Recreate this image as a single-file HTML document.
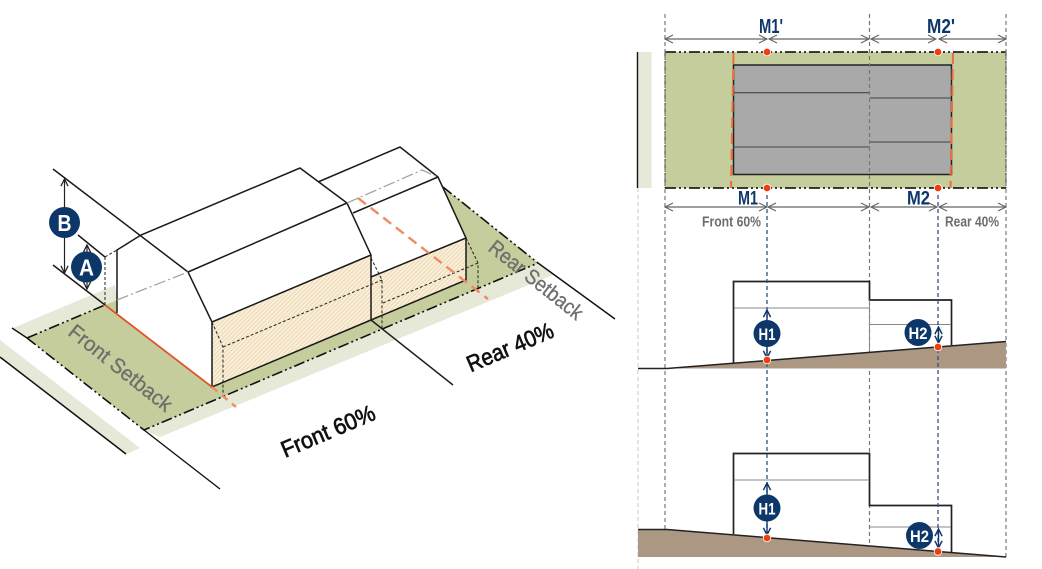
<!DOCTYPE html>
<html><head><meta charset="utf-8"><style>
html,body{margin:0;padding:0;background:#fff;width:1042px;height:569px;overflow:hidden}
svg{display:block}
text{font-family:"Liberation Sans",sans-serif}
</style></head><body>
<svg width="1042" height="569" viewBox="0 0 1042 569" xmlns="http://www.w3.org/2000/svg">
<defs>
<pattern id="h" width="3" height="3" patternUnits="userSpaceOnUse" patternTransform="rotate(45)">
<rect width="3" height="3" fill="#f9efdc"/><rect width="1" height="3" fill="#eed9ae"/>
</pattern>
<marker id="a" viewBox="0 0 10 10" refX="9" refY="5" markerWidth="9" markerHeight="9" markerUnits="userSpaceOnUse" orient="auto-start-reverse"><path d="M1 1L9 5L1 9" fill="none" stroke="#222" stroke-width="1.4"/></marker>
<marker id="b" viewBox="0 0 10 10" refX="9" refY="5" markerWidth="9" markerHeight="9" markerUnits="userSpaceOnUse" orient="auto-start-reverse"><path d="M1 1L9 5L1 9" fill="none" stroke="#0d3768" stroke-width="1.6"/></marker>
<marker id="g" viewBox="0 0 10 10" refX="9" refY="5" markerWidth="10" markerHeight="10" markerUnits="userSpaceOnUse" orient="auto-start-reverse"><path d="M1 1L9 5L1 9" fill="none" stroke="#666" stroke-width="1.2"/></marker>
</defs>

<!-- ISO: ground -->
<polygon points="0,340 140,448 126,454 0,356" fill="#e6e8d8"/>
<polygon points="13,328 115,285 117,300 27,338" fill="#e6e8d8"/>
<polygon points="144,430 538,263 553,275 160,437" fill="#e6e8d8"/>
<polygon points="27,338 117,300 443,187 538,263 144,430" fill="#c6cd9c"/>
<line x1="0" y1="357" x2="126" y2="454" stroke="#111" stroke-width="1.5"/>
<line x1="12" y1="328" x2="27" y2="338" stroke="#111" stroke-width="1.4"/>
<g fill="none" stroke="#111" stroke-width="1.6" stroke-dasharray="11 3 2 3 2 3">
<path d="M27 338L144 430L538 263"/><path d="M27 338L105 305"/><path d="M443 187L538 263"/>
</g>
<path d="M144 430L220 489" stroke="#111" stroke-width="1.4"/>
<path d="M538 263L615 319" stroke="#111" stroke-width="1.4"/>

<!-- ISO: building -->
<polygon points="117,250 141,235 300,168 318,182 400,147 438,177 466,238 466,280 371,320 212,387 117,313" fill="#fff"/>
<polygon points="212,322 371,255 371,320 212,387" fill="url(#h)"/>
<polygon points="371,277 466,238 466,280 371,320" fill="url(#h)"/>
<g fill="none" stroke="#1a1a1a" stroke-width="1.5">
<path d="M53 169L188 272L212 322L212 387L371 320L466 280L466 238L438 177L400 147L318 182"/>
<path d="M117 313V250L141 235L300 168L347 203L371 255V320L453 385"/>
<path d="M188 272L347 203"/>
<path d="M353 213L438 177"/>
<path d="M212 322L371 255"/>
<path d="M371 277L466 238"/>
<path d="M78 235L105 257"/>
<path d="M53 265L105 305"/>
</g>
<g fill="none" stroke="#a5a5a5" stroke-width="1.3" stroke-dasharray="12 3 2 3">
<path d="M117 300L188 272"/><path d="M347 203L422 170L438 177"/>
</g>
<g fill="none" stroke="#222" stroke-width="1" stroke-dasharray="3 2">
<path d="M105 257V305"/><path d="M105 257L117 250"/>
<path d="M212 322L223 347V396"/>
<path d="M223 347L382 280"/>
<path d="M371 258L382 280V328"/>
<path d="M383 303L478 263"/>
<path d="M466 238L478 263V290"/>
</g>
<path d="M105 305L212 387" stroke="#e0542a" stroke-width="1.8" fill="none"/>
<path d="M212 387L236 407" stroke="#f08a60" stroke-width="2.4" stroke-dasharray="7 6" fill="none"/>
<path d="M358 198L488 299" stroke="#f08a60" stroke-width="2.4" stroke-dasharray="10 6" fill="none"/>

<!-- ISO: dimensions -->
<line x1="64.5" y1="179" x2="64.5" y2="273" stroke="#222" stroke-width="1.2" marker-start="url(#a)" marker-end="url(#a)"/>
<line x1="87" y1="245" x2="87" y2="289" stroke="#222" stroke-width="1.2" marker-start="url(#a)" marker-end="url(#a)"/>
<circle cx="64.5" cy="222.5" r="15.5" fill="#0d3768"/>
<circle cx="86.5" cy="267" r="15.5" fill="#0d3768"/>
<text x="64.5" y="231" text-anchor="middle" font-size="23" font-weight="700" fill="#fff" textLength="14" lengthAdjust="spacingAndGlyphs">B</text>
<text x="86.5" y="275.5" text-anchor="middle" font-size="23" font-weight="700" fill="#fff" textLength="15" lengthAdjust="spacingAndGlyphs">A</text>

<!-- ISO: labels -->
<text transform="translate(120.5 368) rotate(38.5)" text-anchor="middle" font-size="21" fill="#6d6f6c" textLength="126" lengthAdjust="spacingAndGlyphs" dy="7" stroke="#6d6f6c" stroke-width="0.3">Front Setback</text>
<text transform="translate(536 280) rotate(38.5)" text-anchor="middle" font-size="21" fill="#6d6f6c" textLength="114" lengthAdjust="spacingAndGlyphs" dy="7" stroke="#6d6f6c" stroke-width="0.3">Rear Setback</text>
<text transform="translate(510 347) rotate(-23)" text-anchor="middle" font-size="23" fill="#111" textLength="92" lengthAdjust="spacingAndGlyphs" dy="8" stroke="#111" stroke-width="0.7">Rear 40%</text>
<text transform="translate(328 431) rotate(-23)" text-anchor="middle" font-size="23" fill="#111" textLength="100" lengthAdjust="spacingAndGlyphs" dy="8" stroke="#111" stroke-width="0.7">Front 60%</text>

<!-- RIGHT: plan -->
<rect x="638.5" y="52" width="13" height="136" fill="#e6e8d8"/>
<line x1="637.5" y1="52" x2="637.5" y2="188" stroke="#111" stroke-width="1.4"/>
<rect x="665" y="52" width="341" height="136" fill="#c6cd9c"/>
<rect x="733.5" y="65" width="218" height="109.5" fill="#a9a9a9" stroke="#222" stroke-width="1.5"/>
<g stroke="#444" stroke-width="1.1">
<line x1="733" y1="92.7" x2="870" y2="92.7"/>
<line x1="733" y1="147" x2="870" y2="147"/>
<line x1="870" y1="98" x2="951" y2="98"/>
<line x1="870" y1="142" x2="951" y2="142"/>
</g>
<g fill="none" stroke="#222" stroke-width="1.8" stroke-dasharray="11 3 2 3 2 3">
<path d="M665 52H1006"/><path d="M665 188H1006"/>
</g>
<g fill="none" stroke="#333" stroke-width="1" stroke-dasharray="6 3 2 3">
<path d="M665 52V188"/><path d="M1006 52V188"/>
</g>
<g fill="none" stroke="#ee6d3c" stroke-width="2" stroke-dasharray="11 5">
<path d="M733.5 53L731 188"/><path d="M953 53L950.5 188"/>
</g>

<!-- RIGHT: verticals -->
<g fill="none" stroke="#777" stroke-width="1.2" stroke-dasharray="4 3">
<path d="M665 14V558"/><path d="M869.5 14V558"/><path d="M1006 14V558"/>
</g>
<path d="M638 188V569" fill="none" stroke="#c9c9c9" stroke-width="1" stroke-dasharray="4 3"/>

<!-- RIGHT: dims -->
<g stroke="#666" stroke-width="1.2" fill="none">
<line x1="665" y1="39" x2="767" y2="39" marker-start="url(#g)" marker-end="url(#g)"/>
<line x1="769" y1="39" x2="869" y2="39" marker-start="url(#g)" marker-end="url(#g)"/>
<line x1="871" y1="39" x2="936" y2="39" marker-start="url(#g)" marker-end="url(#g)"/>
<line x1="939" y1="39" x2="1006" y2="39" marker-start="url(#g)" marker-end="url(#g)"/>
<line x1="665" y1="207" x2="767" y2="207" marker-start="url(#g)" marker-end="url(#g)"/>
<line x1="768" y1="207" x2="869" y2="207" marker-start="url(#g)" marker-end="url(#g)"/>
<line x1="871" y1="207" x2="937" y2="207" marker-start="url(#g)" marker-end="url(#g)"/>
<line x1="939" y1="207" x2="1006" y2="207" marker-start="url(#g)" marker-end="url(#g)"/>
</g>
<g font-size="20" font-weight="700" fill="#0d3768" text-anchor="middle">
<text x="771" y="33" textLength="24" lengthAdjust="spacingAndGlyphs">M1'</text>
<text x="941" y="33" textLength="28" lengthAdjust="spacingAndGlyphs">M2'</text>
<text x="748" y="204.5" textLength="20" lengthAdjust="spacingAndGlyphs" font-size="19">M1</text>
<text x="918.5" y="204.5" textLength="23" lengthAdjust="spacingAndGlyphs" font-size="19">M2</text>
</g>
<g font-size="15" font-weight="700" fill="#6d6d6d" text-anchor="middle">
<text x="731.5" y="226.5" textLength="59" lengthAdjust="spacingAndGlyphs">Front 60%</text>
<text x="972" y="226.5" textLength="54" lengthAdjust="spacingAndGlyphs">Rear 40%</text>
</g>

<!-- RIGHT: section 1 -->
<polygon points="667,368.5 1006,341.5 1006,368.5" fill="#ab9782"/>
<path d="M733.5 363V281.5H869.5V300H951.5V345" fill="none" stroke="#222" stroke-width="1.7"/>
<g stroke="#888" stroke-width="1"><line x1="734" y1="308" x2="869" y2="308"/><line x1="870" y1="324.5" x2="951" y2="324.5"/></g>
<line x1="869.5" y1="300" x2="869.5" y2="352" stroke="#888" stroke-width="1"/>
<path d="M638 368.5H667L1006 341.5" fill="none" stroke="#222" stroke-width="1.5"/>

<!-- RIGHT: section 2 -->
<polygon points="638,529.5 667,529.5 1006,557 638,557" fill="#ab9782"/>
<path d="M733.5 534V453.5H869.5V505.5H951.5V552" fill="none" stroke="#222" stroke-width="1.7"/>
<g stroke="#888" stroke-width="1"><line x1="734" y1="480" x2="869" y2="480"/><line x1="870" y1="527" x2="951" y2="527"/></g>
<path d="M638 529.5H667L1006 557" fill="none" stroke="#222" stroke-width="1.5"/>

<!-- RIGHT: blue dashes -->
<g fill="none" stroke="#2f5280" stroke-width="1.3" stroke-dasharray="4 3">
<path d="M767 188V534"/><path d="M938 188V548"/>
</g>

<!-- RIGHT: H arrows and badges -->
<g stroke="#0d3768" stroke-width="1.4">
<line x1="767" y1="310" x2="767" y2="358" marker-start="url(#b)" marker-end="url(#b)"/>
<line x1="938.5" y1="327" x2="938.5" y2="343" marker-start="url(#b)" marker-end="url(#b)"/>
<line x1="767" y1="483" x2="767" y2="535" marker-start="url(#b)" marker-end="url(#b)"/>
<line x1="938.5" y1="529" x2="938.5" y2="548" marker-start="url(#b)" marker-end="url(#b)"/>
</g>
<circle cx="767" cy="333.5" r="13.5" fill="#0d3768"/>
<circle cx="918" cy="332.5" r="13.5" fill="#0d3768"/>
<circle cx="767" cy="508" r="13.5" fill="#0d3768"/>
<circle cx="919.5" cy="535.5" r="13.5" fill="#0d3768"/>
<g font-size="17" font-weight="700" fill="#fff" text-anchor="middle">
<text x="767" y="340" textLength="17" lengthAdjust="spacingAndGlyphs">H1</text>
<text x="918" y="339" textLength="19" lengthAdjust="spacingAndGlyphs">H2</text>
<text x="767" y="514.5" textLength="17" lengthAdjust="spacingAndGlyphs">H1</text>
<text x="919.5" y="542" textLength="19" lengthAdjust="spacingAndGlyphs">H2</text>
</g>

<!-- RIGHT: red dots -->
<g fill="#f23c0f" stroke="#fff" stroke-width="0.8">
<circle cx="767" cy="52" r="3.8"/><circle cx="938" cy="52" r="3.8"/>
<circle cx="767" cy="188" r="3.8"/><circle cx="938" cy="188" r="3.8"/>
<circle cx="767" cy="360" r="3.8"/><circle cx="938" cy="347" r="3.8"/>
<circle cx="767" cy="538" r="3.8"/><circle cx="938" cy="551.5" r="3.8"/>
</g>
</svg>
</body></html>
